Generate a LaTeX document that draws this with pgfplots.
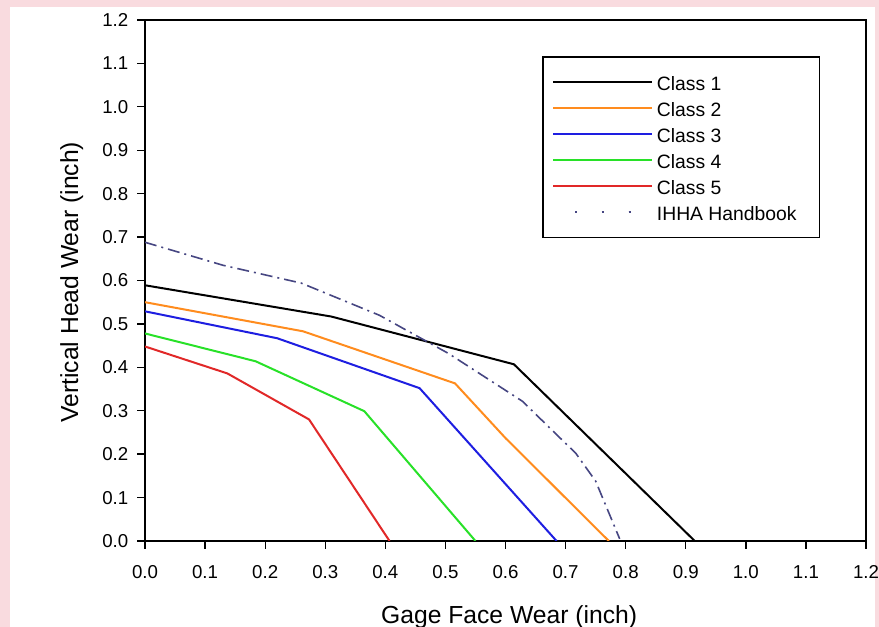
\documentclass[border=0pt]{standalone}
\usepackage{pgfplots}
\pgfplotsset{compat=1.18}
\usepackage{fontspec}
\setmainfont{Liberation Sans}
\definecolor{bgpink}{RGB}{249,219,223}
\definecolor{corange}{RGB}{255,140,30}
\definecolor{cblue}{RGB}{30,30,225}
\definecolor{cgreen}{RGB}{40,225,40}
\definecolor{cred}{RGB}{225,40,40}
\definecolor{cihha}{RGB}{70,70,130}
\begin{document}
\begin{tikzpicture}
\fill[bgpink] (0pt,0pt) rectangle (659.25pt,470.25pt);
\fill[white] (7.5pt,0pt) rectangle (656.25pt,465pt);
\useasboundingbox (0pt,0pt) rectangle (659.25pt,470.25pt);
\begin{axis}[
  at={(108.75pt,64.5pt)}, anchor=south west,
  scale only axis, width=540.75pt, height=390.75pt,
  xmin=0, xmax=1.2, ymin=0, ymax=1.2,
  xtick={0,0.1,0.2,0.3,0.4,0.5,0.6,0.7,0.8,0.9,1.0,1.1,1.2},
  ytick={0,0.1,0.2,0.3,0.4,0.5,0.6,0.7,0.8,0.9,1.0,1.1,1.2},
  /pgf/number format/.cd, fixed, fixed zerofill, precision=1, assume math mode=true,
  /pgfplots/.cd,
  tick label style={font=\fontsize{14}{16}\selectfont},
  xticklabel style={yshift=-9pt},
  yticklabel style={xshift=-3pt},
  axis line style={line width=1.2pt},
  tick style={black, line width=1pt},
  tick align=outside, major tick length=6pt,
  xtick pos=bottom, ytick pos=left,
  xlabel={Gage Face Wear (inch)},
  ylabel={Vertical Head Wear (inch)},
  xlabel style={at={(axis cs:0.606,-0.189)}, anchor=base, font=\fontsize{18.5}{20}\selectfont},
  ylabel style={at={(axis cs:-0.122,0.596)}, anchor=center, font=\fontsize{18.5}{20}\selectfont},
  legend style={at={(axis cs:0.661,1.117)}, anchor=north west, draw=black, line width=1.2pt,
    font=\fontsize{14.5}{16}\selectfont, inner xsep=7pt, inner ysep=9.5pt,
    nodes={text height=13pt, text depth=0pt, inner sep=3pt}, row sep=0.5pt},
  legend cell align=left,
  legend image code/.code={\draw[#1] (0pt,0pt) -- (63pt,0pt); \path (0pt,0pt) -- (74pt,0pt);},
]
\addplot[black, line width=1.5pt] coordinates {(0,0.589) (0.31,0.517) (0.614,0.407) (0.915,0)};
\addlegendentry{Class 1}
\addplot[corange, line width=1.5pt] coordinates {(0,0.55) (0.263,0.483) (0.516,0.363) (0.6,0.237) (0.772,0)};
\addlegendentry{Class 2}
\addplot[cblue, line width=1.5pt] coordinates {(0,0.529) (0.22,0.467) (0.457,0.352) (0.685,0)};
\addlegendentry{Class 3}
\addplot[cgreen, line width=1.5pt] coordinates {(0,0.478) (0.184,0.414) (0.365,0.299) (0.55,0)};
\addlegendentry{Class 4}
\addplot[cred, line width=1.5pt] coordinates {(0,0.448) (0.137,0.386) (0.273,0.28) (0.407,0)};
\addlegendentry{Class 5}
\addplot[cihha, line width=1.2pt, dash pattern=on 9pt off 3.75pt on 1.5pt off 3.75pt, forget plot]
  coordinates {(0,0.688) (0.13,0.635) (0.26,0.594) (0.39,0.52) (0.505,0.432) (0.628,0.322) (0.717,0.202) (0.75,0.138) (0.79,0.005)};
\addlegendimage{cihha, line width=1.5pt, dash pattern=on 1.5pt off 18.5pt, dash phase=3.5pt}
\addlegendentry{IHHA Handbook\rule{7pt}{0pt}}
\end{axis}
\end{tikzpicture}
\end{document}
